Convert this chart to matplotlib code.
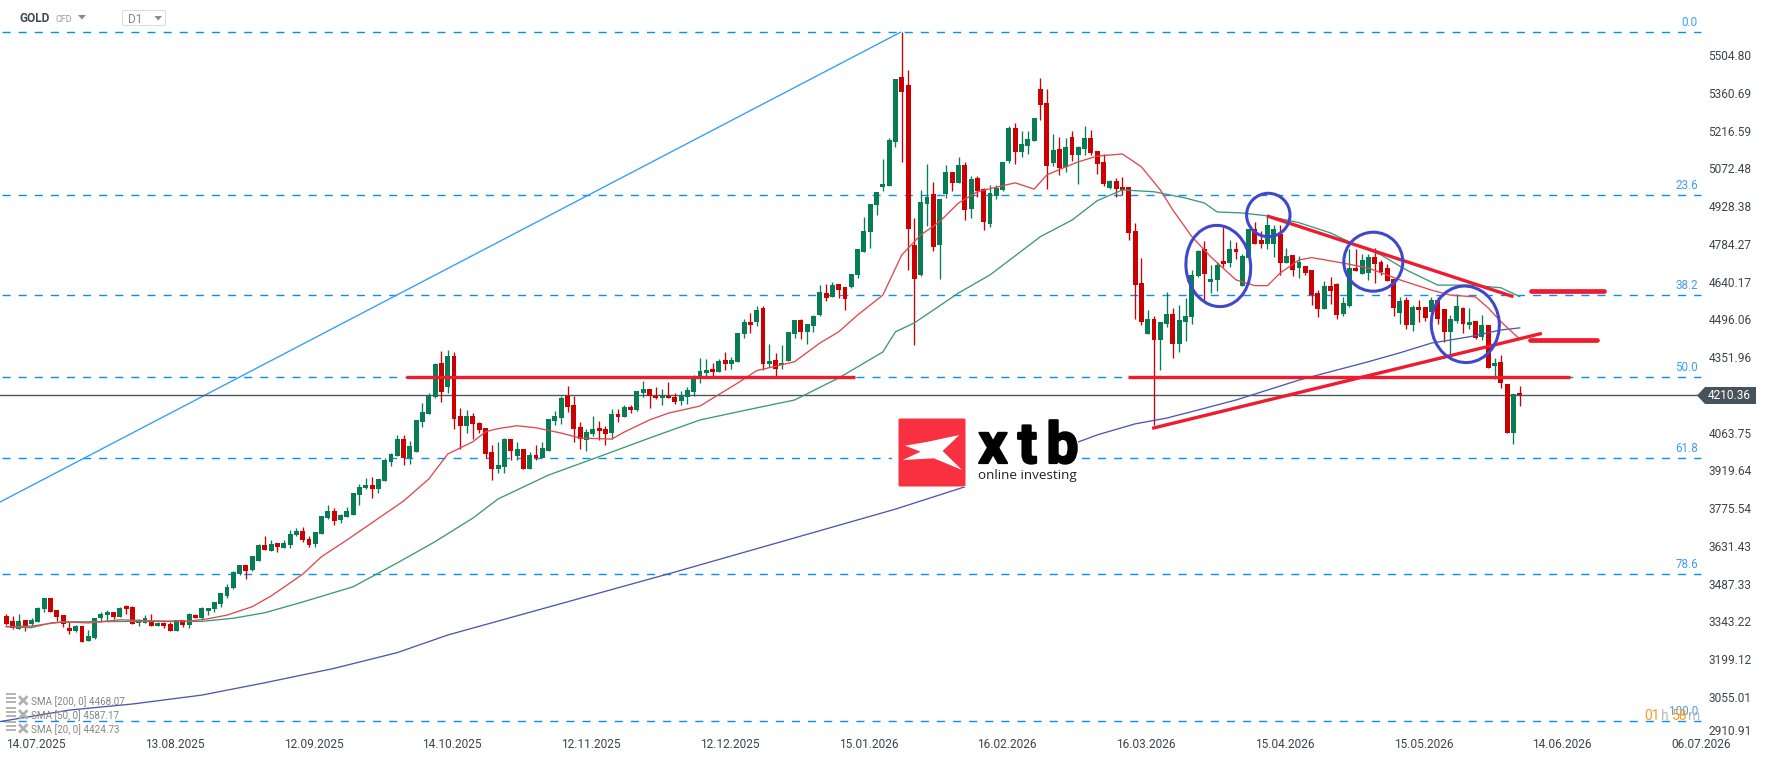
import numpy as np
import matplotlib
matplotlib.use("Agg")
import matplotlib.pyplot as plt
import matplotlib.patheffects as pe
from matplotlib.patches import Ellipse, Polygon, Rectangle, FancyBboxPatch

plt.rcParams['font.family'] = ['Roboto', 'DejaVu Sans']

opens = [
    3370,3351,3320,3355,3338,3347,3395,3439,3393,3374,
    3324,3313,3332,3276,3286,3362,3374,3385,3366,3408,
    3404,3343,3343,3347,3332,3343,3339,3313,3355,3336,
    3374,3362,3389,3397,3416,3446,3477,3530,3564,3545,
    3580,3641,3618,3648,3629,3641,3679,3694,3663,3643,
    3682,3743,3770,3735,3747,3755,3831,3857,3869,3854,
    3884,3957,3979,4044,3972,3995,4109,4140,4204,4334,
    4243,4361,4132,4094,4132,4105,4086,3995,3930,3937,
    4044,3979,4006,3930,3983,3972,3998,4113,4124,4208,
    4174,4090,4040,4063,4086,4082,4067,4140,4128,4166,
    4155,4220,4235,4208,4201,4208,4204,4189,4204,4224,
    4284,4296,4311,4300,4345,4330,4338,4444,4490,4490,
    4544,4330,4345,4326,4342,4444,4498,4452,4475,4517,
    4601,4586,4635,4624,4624,4669,4757,4833,4936,5005,
    5009,5177,5424,5394,4784,4669,4940,4978,4784,4978,
    5062,5020,5089,4921,5039,4997,4864,4971,4993,5104,
    5230,5138,5161,5180,5379,5325,5096,5150,5081,5196,
    5127,5150,5192,5142,5100,5001,5028,5005,5005,4837,
    4639,4444,4502,4422,4483,4521,4406,4490,4509,4666,
    4769,4643,4650,4723,4715,4769,4628,4734,4845,4803,
    4788,4788,4826,4715,4746,4696,4704,4689,4601,4540,
    4628,4635,4521,4551,4696,4673,4677,4738,4719,4696,
    4654,4525,4574,4479,4547,4547,4528,4574,4540,4452,
    4494,4544,4479,4494,4433,4479,4323,4338,4254,4067,4220,
]
closes = [
    3339,3324,3351,3332,3355,3400,3439,3385,3366,3338,
    3313,3332,3271,3294,3362,3378,3385,3366,3400,3397,
    3339,3355,3362,3332,3343,3332,3313,3355,3336,3378,
    3362,3400,3400,3423,3458,3480,3538,3564,3541,3599,
    3641,3622,3644,3633,3648,3683,3694,3659,3640,3690,
    3751,3770,3732,3755,3770,3838,3861,3869,3854,3892,
    3964,3987,4044,3972,4018,4117,4147,4212,4330,4224,
    4361,4121,4094,4132,4101,4079,3987,3930,3945,4044,
    3998,4006,3930,3983,3972,4010,4121,4132,4201,4166,
    4082,4044,4071,4082,4075,4063,4140,4128,4166,4155,
    4227,4235,4208,4201,4208,4201,4185,4208,4231,4273,
    4303,4307,4300,4342,4330,4345,4448,4490,4479,4536,
    4330,4342,4311,4334,4452,4498,4452,4483,4513,4605,
    4582,4631,4612,4578,4673,4769,4837,4940,4986,5017,
    5184,5417,5367,4845,4654,4948,4967,4776,4959,5062,
    5020,5089,4917,5035,4990,4872,4982,5001,5100,5230,
    5138,5169,5188,5268,5318,5085,5146,5077,5157,5127,
    5157,5192,5135,5093,5016,5028,4997,4993,4830,4631,
    4490,4502,4422,4490,4521,4406,4498,4513,4669,4761,
    4673,4654,4708,4711,4769,4757,4742,4845,4788,4788,
    4860,4845,4715,4742,4689,4719,4677,4593,4540,4628,
    4609,4517,4563,4696,4685,4727,4738,4711,4681,4647,
    4544,4570,4479,4547,4536,4506,4574,4502,4452,4502,
    4551,4483,4490,4429,4479,4315,4334,4258,4067,4216,4210.36,
]
highs = [
    3377,3370,3377,3355,3362,3403,3439,3439,3393,3374,
    3347,3336,3332,3317,3362,3385,3393,3385,3403,3412,
    3406,3358,3374,3378,3347,3347,3347,3355,3355,3381,
    3378,3403,3400,3423,3458,3491,3540,3564,3564,3599,
    3644,3675,3660,3648,3660,3698,3704,3709,3674,3690,
    3751,3793,3781,3758,3785,3838,3873,3896,3900,3892,
    3972,3991,4060,4060,4037,4117,4181,4218,4333,4380,
    4384,4376,4162,4155,4143,4109,4086,4021,4033,4048,
    4044,4033,4006,3995,4021,4033,4121,4151,4208,4246,
    4208,4109,4082,4132,4113,4094,4159,4159,4174,4174,
    4227,4265,4235,4243,4235,4262,4220,4227,4243,4288,
    4353,4349,4334,4349,4376,4357,4448,4502,4525,4551,
    4551,4406,4372,4402,4452,4498,4502,4483,4517,4631,
    4635,4643,4635,4624,4673,4769,4891,4940,4986,5112,
    5192,5417,5595,5451,4887,4994,5093,5024,4959,5089,
    5062,5119,5100,5047,5047,5001,5013,5013,5100,5238,
    5249,5218,5218,5268,5421,5379,5207,5196,5192,5218,
    5161,5238,5222,5142,5131,5032,5039,5043,5005,4868,
    4734,4536,4513,4490,4605,4544,4555,4582,4689,4765,
    4799,4708,4719,4852,4803,4795,4750,4845,4872,4837,
    4891,4860,4860,4773,4746,4742,4704,4689,4612,4647,
    4662,4639,4586,4769,4769,4750,4750,4772,4727,4712,
    4654,4586,4586,4555,4574,4547,4586,4586,4540,4517,
    4597,4548,4544,4494,4517,4479,4353,4365,4254,4216,4246,
]
lows = [
    3337,3319,3320,3314,3332,3347,3385,3383,3351,3327,
    3301,3309,3271,3273,3282,3347,3351,3358,3366,3378,
    3339,3332,3343,3332,3332,3324,3313,3313,3328,3324,
    3362,3355,3374,3385,3402,3440,3474,3526,3511,3543,
    3580,3622,3618,3614,3629,3629,3675,3652,3631,3634,
    3682,3739,3716,3724,3747,3755,3793,3854,3819,3838,
    3884,3941,3979,3945,3949,3995,4090,4140,4200,4185,
    4220,4082,4006,4067,4044,4067,3972,3888,3915,3915,
    3964,3964,3930,3930,3964,3972,3998,4098,4101,4147,
    4033,4006,3998,4056,4040,4021,4044,4109,4128,4143,
    4151,4204,4162,4197,4174,4201,4178,4174,4178,4208,
    4259,4284,4284,4300,4307,4311,4338,4429,4448,4475,
    4307,4320,4284,4311,4342,4429,4425,4406,4452,4513,
    4570,4586,4582,4536,4620,4658,4757,4772,4898,4990,
    5009,5157,5100,4689,4403,4665,4856,4761,4654,4963,
    4990,5020,4879,4887,4967,4841,4852,4959,4990,5097,
    5093,5119,5131,5180,5260,4997,5085,5051,5062,5104,
    5016,5127,5127,5055,5009,4997,4967,4974,4803,4502,
    4479,4444,4098,4307,4471,4353,4376,4418,4483,4662,
    4570,4601,4609,4700,4700,4730,4628,4734,4788,4772,
    4769,4738,4670,4715,4666,4658,4670,4555,4509,4540,
    4559,4502,4513,4547,4685,4673,4651,4639,4670,4647,
    4513,4483,4464,4456,4490,4494,4528,4483,4414,4365,
    4487,4448,4464,4425,4422,4315,4273,4239,4067,4025,4170,
]

# Moving averages, sampled at the listed bar numbers
sma20_bars = [0,4,9,13,18,25,29,32,35,39,42,47,50,54,63,67,70,74,76,78,81,84,88,91,96,98,102,105,110,
              116,119,125,129,132,135,139,142,145,148,151,154,158,160,163,165,168,170,173,177,180,183,
              185,188,191,195,198,200,202,205,207,212,216,221,226,229,233,235,237,240]
sma20_vals = [3329,3331,3348,3343,3355,3350,3350,3359,3373,3405,3446,3529,3596,3659,3808,3892,3987,4034,
              4072,4084,4095,4087,4067,4048,4044,4071,4117,4143,4170,4258,4305,4339,4410,4453,4517,4593,
              4746,4822,4873,4944,4987,5010,5021,4997,5051,5082,5101,5123,5131,5082,4994,4917,4816,4739,
              4651,4629,4629,4677,4727,4736,4715,4696,4651,4612,4593,4586,4544,4492,4425]
sma50_bars = [0,4,7,10,15,20,31,36,41,47,55,62,68,74,78,86,94,102,110,118,125,132,139,141,144,151,156,164,
              169,173,177,182,187,190,192,196,200,205,210,214,218,222,227,232,237,240]
sma50_vals = [3329,3325,3343,3347,3348,3349,3349,3361,3382,3423,3481,3572,3653,3743,3816,3907,3977,4048,
              4117,4158,4193,4277,4376,4453,4487,4601,4670,4816,4879,4953,4994,4987,4963,4944,4910,4906,4895,
              4869,4830,4784,4746,4689,4631,4631,4621,4587]
sma200_bars = [-1,10,20,31,41,52,62,70,106,141,152,170,173,179,184,189,195,200,205,210,216,221,226,232,237,240]
sma200_vals = [2967,3011,3034,3068,3115,3170,3230,3297,3537,3777,3862,4033,4060,4102,4124,4155,4193,4231,
               4269,4301,4339,4373,4410,4434,4460,4468]

fib_levels = [0.0, 23.6, 38.2, 50.0, 61.8, 78.6, 100.0]
fib_high = 5595
fib_low = 2969
last_price = 4210.36

price_ticks = [5504.80,5360.69,5216.59,5072.48,4928.38,4784.27,4640.17,4496.06,4351.96,
               4063.75,3919.64,3775.54,3631.43,3487.33,3343.22,3199.12,3055.01,2910.91]
date_labels = ['14.07.2025','13.08.2025','12.09.2025','14.10.2025','12.11.2025','12.12.2025','15.01.2026',
               '16.02.2026','16.03.2026','15.04.2026','15.05.2026','14.06.2026','06.07.2026']
legend_labels = ['SMA [200, 0] 4468.07','SMA [50, 0] 4587.17','SMA [20, 0] 4424.73']

W, H = 1768, 761
GREEN, RED = '#067d55', '#cc0000'
LINE_RED = '#ee1c2e'
BLUE = '#0a8cff'
TEXT = '#3c454c'

fig = plt.figure(figsize=(W/100, H/100), dpi=100, facecolor='white')
ax = fig.add_axes([0, 0, 1, 1])
ax.set_xlim(-6.3/6.306, (W-6.3)/6.306)
ax.set_ylim(5718-3.8124*H, 5718)
ax.axis('off')

# Fibonacci retracement
fib_prices = [fib_high - (fib_high-fib_low)*lv/100 for lv in fib_levels]
for pr in fib_prices:
    ax.plot([-0.7, 268.7], [pr, pr], color=BLUE, lw=1.0, dashes=(5.8, 5.8), zorder=1)
ax.plot([-1, 141.8], [3804, fib_high], color='#2d9cff', lw=0.95, zorder=1.5)

# Last price line
ax.plot([-1, 268.2], [last_price, last_price], color='#4a555c', lw=1.0, zorder=1.6)

# Candles
idx = np.arange(len(opens))
colors = [GREEN if c >= o else RED for o, c in zip(opens, closes)]
ax.vlines(idx, lows, highs, colors=colors, lw=0.95, zorder=2)
ax.bar(idx, np.abs(np.array(closes)-np.array(opens)), bottom=np.minimum(opens, closes),
       width=0.78, color=colors, linewidth=0, zorder=2.1)

# Moving averages
ax.plot(sma200_bars, sma200_vals, color='#4e58ad', lw=0.95, zorder=3)
ax.plot(sma50_bars, sma50_vals, color='#3a9a78', lw=0.95, zorder=3)
ax.plot(sma20_bars, sma20_vals, color='#e0484e', lw=0.95, zorder=3)

# Hand-drawn levels and trend lines
for x0, x1, y0, y1, lw in [(63.4, 134.6, 4282, 4282, 2.4), (177.9, 248, 4282, 4282, 2.4),
                           (181.7, 243.5, 4085, 4447, 2.4), (199.9, 239, 4895, 4587, 2.4),
                           (241.8, 253.4, 4607, 4607, 3.4), (241.6, 252.3, 4421, 4421, 3.4)]:
    ax.plot([x0, x1], [y0, y1], color=LINE_RED, lw=lw, solid_capstyle='round' if lw > 3 else 'butt', zorder=4)

# Overlay in pixel units for interface furniture
ov = fig.add_axes([0, 0, 1, 1], facecolor='none')
ov.set_xlim(0, W)
ov.set_ylim(H, 0)
ov.axis('off')

def price_y(v):
    return (5718 - v) / 3.8124

# Pattern circles
for cx, cy, rx, ry, ang in [(1218.3, 266, 32.3, 40.7, -6), (1268.3, 215, 21.7, 21.7, 0),
                            (1373.3, 261.7, 29.5, 29.5, 0), (1465.3, 324.3, 34, 38.3, -5)]:
    ov.add_patch(Ellipse((cx, cy), 2*rx, 2*ry, angle=ang, fill=False, ec='#3f48cc', lw=2.2, zorder=5))

# Fibonacci captions
for lv, pr in zip(fib_levels, fib_prices):
    ov.text(1698, price_y(pr)-9.5, f'{lv:.1f}', color='#3f9df2', fontsize=8.4, ha='right', va='center')

# Price scale
for v, lab in zip(price_ticks, [f'{p:.2f}' for p in price_ticks]):
    y = min(56.7 + (5504.8 - v) * 0.26196, 731.7)
    ov.text(1708.5, y, lab, color=TEXT, fontsize=8.6, ha='left', va='center')

# Last price tag
tag_y = price_y(last_price)
ov.add_patch(Polygon([(1697, tag_y), (1705, 387), (1756, 387), (1756, 404), (1705, 404)],
                     closed=True, fc='#46535c', ec='none', zorder=6))
ov.text(1708, tag_y, f'{last_price:.2f}', color='white', fontsize=8.6, ha='left', va='center', zorder=7)

# Date scale
for k, lab in enumerate(date_labels):
    ov.text(6.3 + 6.306*22*k, 744.7, lab, color=TEXT, fontsize=8.6, ha='left', va='center')

# Instrument header
ov.text(20, 18.5, 'GOLD', color='#3f4c55', fontsize=8.6, fontweight='bold', ha='left', va='center')
ov.text(55, 19.5, 'CFD', color='#999999', fontsize=6.4, ha='left', va='center')
ov.add_patch(Polygon([(78, 15), (86, 15), (82, 19.5)], fc='#8a8a8a', ec='none'))
ov.add_patch(FancyBboxPatch((122.5, 10.5), 43, 15, boxstyle='round,pad=0,rounding_size=1.5',
                            fc='white', ec='#dddddd', lw=0.8))
ov.text(128, 19.5, 'D1', color='#888888', fontsize=8.6, ha='left', va='center')
ov.add_patch(Polygon([(154.5, 16), (162, 16), (158.2, 20.5)], fc='#8a8a8a', ec='none'))

# Indicator legend
for y, lab in zip([701.7, 715.7, 729.7], legend_labels):
    for dy in (-4, 0, 4):
        ov.add_patch(Rectangle((6, y-4+dy-0.8), 10, 2.1, fc='#b5b5b5', ec='none', zorder=6))
    ov.plot([20, 26.5], [y-4.5, y+2], color='#b0b0b0', lw=2, zorder=6)
    ov.plot([20, 26.5], [y+2, y-4.5], color='#b0b0b0', lw=2, zorder=6)
    ov.text(31, y, lab, color='#858585', fontsize=7.1, ha='left', va='center', zorder=6)

# Countdown to the next bar
for x, s, c in [(1644.5, '01', '#ff9a1f'), (1660.5, 'h', '#b8b8b8'), (1672, '58', '#ff9a1f'), (1688, 'm', '#b8b8b8')]:
    ov.text(x, 716, s, color=c, fontsize=10, ha='left', va='center', zorder=6)

# Broker logo
ov.add_patch(Rectangle((892, 416), 186, 71, fc='white', ec='none', zorder=8))
ov.add_patch(FancyBboxPatch((898.5, 418.5), 67, 68, boxstyle='round,pad=0,rounding_size=1.5',
                            fc='#f9303f', ec='none', zorder=9))
star = [(135,197),(205,185),(298,165),(248,213),(306,270),(222,235),(128,240),(182,215)]
ov.add_patch(Polygon([(860+a/3, 380+b/3) for a, b in star], fc='white', ec='none', zorder=10))
for x, ch in [(993, 'x'), (1027.5, 't'), (1062.5, 'b')]:
    ov.text(x, 463, ch, color='black', fontsize=41, fontweight='bold', ha='center', va='baseline',
            zorder=10, family='Roboto',
            path_effects=[pe.withStroke(linewidth=1.6, foreground='black')])
ov.text(978, 475.7, 'online investing', color='#222222', fontsize=9.7, ha='left', va='center', zorder=10,
        family='Open Sans')

fig.savefig('out.png', dpi=100, facecolor='white')
